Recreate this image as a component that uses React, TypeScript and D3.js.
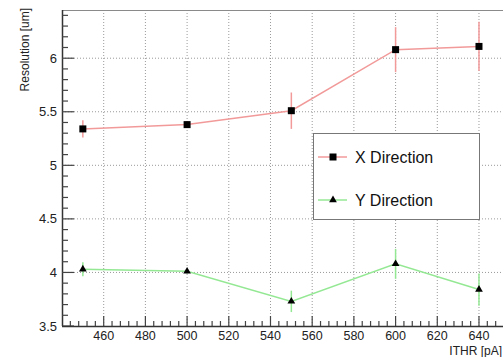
import { useEffect, useRef } from 'react';
import * as d3 from 'd3';

// ITHR settings (pA)
const ithr = [450, 500, 550, 600, 640];
// resolution (um) and errors
const xRes = [5.34, 5.38, 5.51, 6.08, 6.11];
const xErr = [0.08, 0.03, 0.17, 0.21, 0.23];
const yRes = [4.03, 4.01, 3.73, 4.08, 3.84];
const yErr = [0.065, 0.02, 0.1, 0.14, 0.15];

const xTicks = [460, 480, 500, 520, 540, 560, 580, 600, 620, 640];
const yTicks = [3.5, 4, 4.5, 5, 5.5, 6];

const series = [
  { name: 'X Direction', values: xRes, errors: xErr, color: '#f29a9a', marker: 'square' },
  { name: 'Y Direction', values: yRes, errors: yErr, color: '#94e894', marker: 'triangle' },
];

const App = () => {
  const svgRef = useRef<SVGSVGElement | null>(null);

  useEffect(() => {
    if (!svgRef.current) return;
    const svg = d3.select(svgRef.current);
    svg.selectAll('*').remove();

    const left = 62, right = 504, top = 10, bottom = 326;
    const font = '"Liberation Sans", Arial, Helvetica, sans-serif';

    const x = d3.scaleLinear().domain([440, 652]).range([left, right]);
    const y = d3.scaleLinear().domain([3.5, 6.45]).range([bottom, top]);

    const g = svg.append('g');

    // grid
    xTicks.forEach(t => {
      g.append('line')
        .attr('x1', x(t)).attr('x2', x(t)).attr('y1', top).attr('y2', bottom)
        .attr('stroke', '#9a9a9a').attr('stroke-width', 1).attr('stroke-dasharray', '1,2');
    });
    yTicks.filter(t => t > 3.5).forEach(t => {
      g.append('line')
        .attr('x1', left).attr('x2', right).attr('y1', y(t)).attr('y2', y(t))
        .attr('stroke', '#9a9a9a').attr('stroke-width', 1).attr('stroke-dasharray', '1,2');
    });

    // frame top
    g.append('line').attr('x1', left).attr('x2', right).attr('y1', top + 0.5).attr('y2', top + 0.5)
      .attr('stroke', '#8a8a8a').attr('stroke-width', 1);

    // y axis with minor ticks
    g.append('line').attr('x1', left + 0.5).attr('x2', left + 0.5).attr('y1', top).attr('y2', bottom)
      .attr('stroke', '#333').attr('stroke-width', 1.5);
    d3.range(3.5, 6.45, 0.1).forEach(v => {
      const major = Math.abs(v * 2 - Math.round(v * 2)) < 1e-6;
      g.append('line')
        .attr('x1', left).attr('x2', left + (major ? 12 : 6))
        .attr('y1', y(v)).attr('y2', y(v))
        .attr('stroke', '#444').attr('stroke-width', 1.2);
    });
    yTicks.forEach(t => {
      g.append('text')
        .attr('x', left - 5).attr('y', y(t) + 4.5)
        .attr('text-anchor', 'end').attr('font-family', font).attr('font-size', 13)
        .attr('fill', '#222').text(String(t));
    });

    // x axis with minor ticks
    g.append('line').attr('x1', left).attr('x2', right).attr('y1', bottom + 0.5).attr('y2', bottom + 0.5)
      .attr('stroke', '#333').attr('stroke-width', 1.5);
    d3.range(444, 652, 4).forEach(v => {
      const major = v % 20 === 0;
      g.append('line')
        .attr('x1', x(v)).attr('x2', x(v))
        .attr('y1', bottom).attr('y2', bottom - (major ? 10 : 5))
        .attr('stroke', '#444').attr('stroke-width', 1.2);
    });
    xTicks.forEach(t => {
      g.append('text')
        .attr('x', x(t)).attr('y', bottom + 14)
        .attr('text-anchor', 'middle').attr('font-family', font).attr('font-size', 12.5)
        .attr('fill', '#222').text(String(t));
    });

    // axis titles
    g.append('text')
      .attr('x', 502).attr('y', 355)
      .attr('text-anchor', 'end').attr('font-family', font).attr('font-size', 12)
      .attr('fill', '#222').text('ITHR [pA]');
    g.append('text')
      .attr('transform', 'translate(29,8) rotate(-90)')
      .attr('text-anchor', 'end').attr('font-family', font).attr('font-size', 12)
      .attr('fill', '#222').text('Resolution [um]');

    const drawMarker = (sel: any, kind: string, cx: number, cy: number) => {
      if (kind === 'square') {
        sel.append('rect').attr('x', cx - 3.5).attr('y', cy - 3.5).attr('width', 7).attr('height', 7).attr('fill', '#000');
      } else {
        sel.append('path').attr('d', d3.symbol().type(d3.symbolTriangle).size(26)()).attr('transform', `translate(${cx},${cy})`).attr('fill', '#000');
      }
    };

    // series
    series.forEach(s => {
      const pts = ithr.map((t, i) => [x(t), y(s.values[i])] as [number, number]);
      g.append('path')
        .attr('d', d3.line()(pts))
        .attr('fill', 'none').attr('stroke', s.color).attr('stroke-width', 1.5);
      ithr.forEach((t, i) => {
        g.append('line')
          .attr('x1', x(t)).attr('x2', x(t))
          .attr('y1', y(s.values[i] - s.errors[i])).attr('y2', y(s.values[i] + s.errors[i]))
          .attr('stroke', s.color).attr('stroke-width', 1.5);
      });
      pts.forEach(p => drawMarker(g, s.marker, p[0], p[1]));
    });

    // legend
    const lg = g.append('g');
    lg.append('rect').attr('x', 313.5).attr('y', 133.5).attr('width', 166).attr('height', 86)
      .attr('fill', '#fff').attr('stroke', '#777').attr('stroke-width', 1);
    series.forEach((s, i) => {
      const cy = 157 + i * 43;
      lg.append('line').attr('x1', 318).attr('x2', 347).attr('y1', cy).attr('y2', cy)
        .attr('stroke', s.color).attr('stroke-width', 1.5);
      drawMarker(lg, s.marker, 333, cy);
      lg.append('text').attr('x', 355).attr('y', cy + 6)
        .attr('font-family', font).attr('font-size', 16).attr('fill', '#111').text(s.name);
    });
  }, []);

  return (
    <svg ref={svgRef} width={503} height={357}
      style={{ position: 'absolute', left: 0, top: 0, background: '#fff' }} />
  );
};

export default App;
